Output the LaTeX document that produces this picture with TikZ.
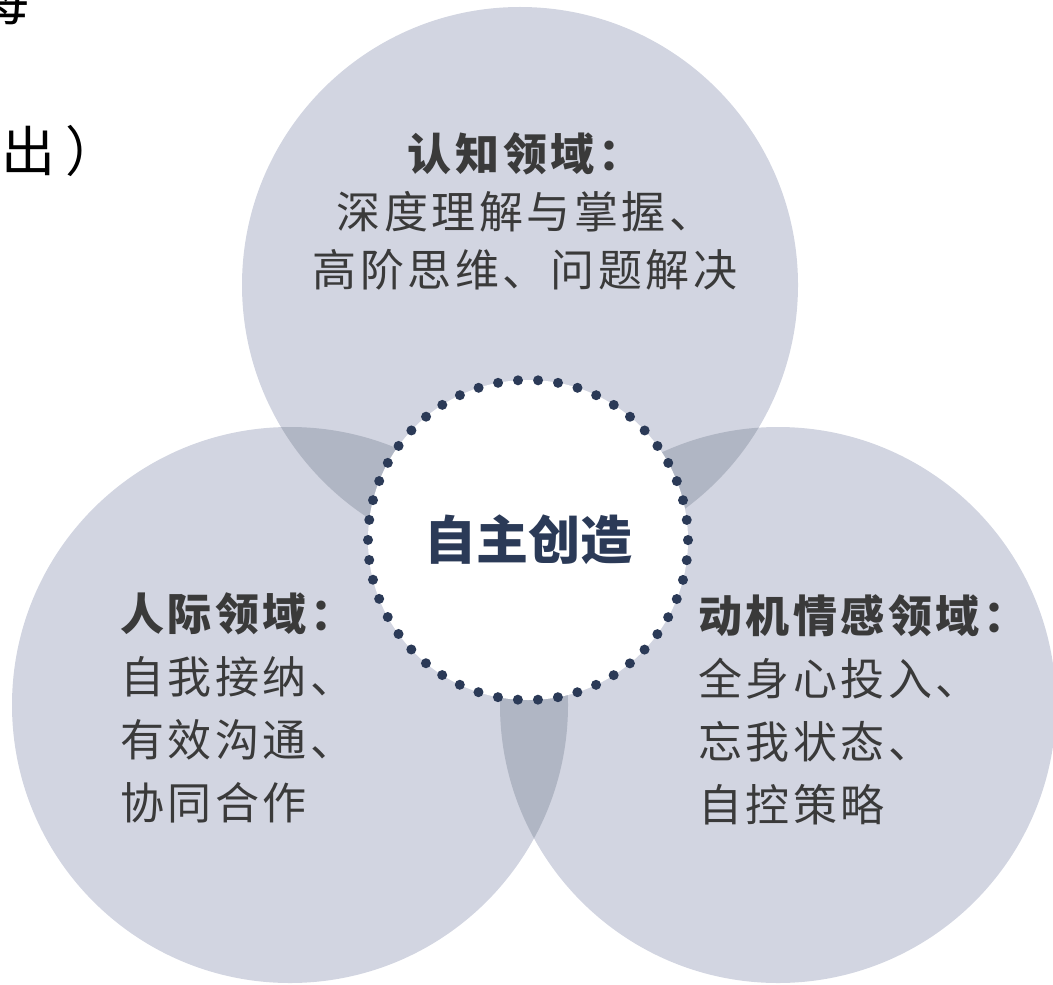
\documentclass[tikz,border=0pt]{standalone}
\usepackage{fontspec}
\newfontfamily\cjk{Noto Sans CJK SC}[LetterSpace=8]
\newfontfamily\cjkplain{Noto Sans CJK SC}
\definecolor{circfill}{HTML}{D2D5E1}
\definecolor{lensfill}{HTML}{B0B6C4}
\definecolor{navy}{HTML}{2B3A57}
\definecolor{txt}{HTML}{3A3A3A}
\begin{document}
\begin{tikzpicture}[x=0.5pt,y=-0.5pt,
  bigcirc/.style={circle, fill=circfill, minimum size=278pt, inner sep=0pt},
  lens/.style={fill=lensfill},
  core/.style={circle, fill=white, draw=navy, line width=5pt,
    dash pattern=on 0pt off 10.053pt, line cap=round,
    minimum size=160pt, inner sep=0pt, text=navy,
    font=\cjkplain\bfseries\fontsize{26}{30}\selectfont},
  toptext/.style={inner sep=0pt, align=center, text=txt,
    font=\cjk\fontsize{22}{29}\selectfont},
  sidetext/.style={inner sep=0pt, align=left, text=txt, anchor=west,
    font=\cjk\fontsize{22}{31.5}\selectfont},
  frag/.style={inner sep=0pt, text=black, font=\cjkplain\fontsize{27}{30}\selectfont}
]
\useasboundingbox (0,0) rectangle (1053,984);
\clip (0,0) rectangle (1053,984);
% three domain circles
\node[bigcirc] (cog) at (520,285) {};
\node[bigcirc] (inter) at (290,705) {};
\node[bigcirc] (motiv) at (778,705) {};
% overlaps
\begin{scope}
  \clip (520,285) circle[radius=139pt];
  \fill[lens] (290,705) circle[radius=139pt];
  \fill[lens] (778,705) circle[radius=139pt];
\end{scope}
\begin{scope}
  \clip (290,705) circle[radius=139pt];
  \fill[lens] (778,705) circle[radius=139pt];
\end{scope}
% centre
\node[core] (core) at (528,540) {自主创造};
% texts
\node[toptext] (cogtxt) at (525,211) {{\bfseries 认知领域：}\\深度理解与掌握、\\高阶思维、问题解决};
\node[sidetext] (intertxt) at (120,708) {{\bfseries 人际领域：}\\自我接纳、\\有效沟通、\\协同合作};
\node[sidetext] (motivtxt) at (698,710) {{\bfseries 动机情感领域：}\\全身心投入、\\忘我状态、\\自控策略};
% fragments at top left
\node[frag] (frag1) at (2,0) {每};
\node[frag, anchor=west] (frag2) at (1,151) {出\hspace{5pt}）};
\end{tikzpicture}
\end{document}
